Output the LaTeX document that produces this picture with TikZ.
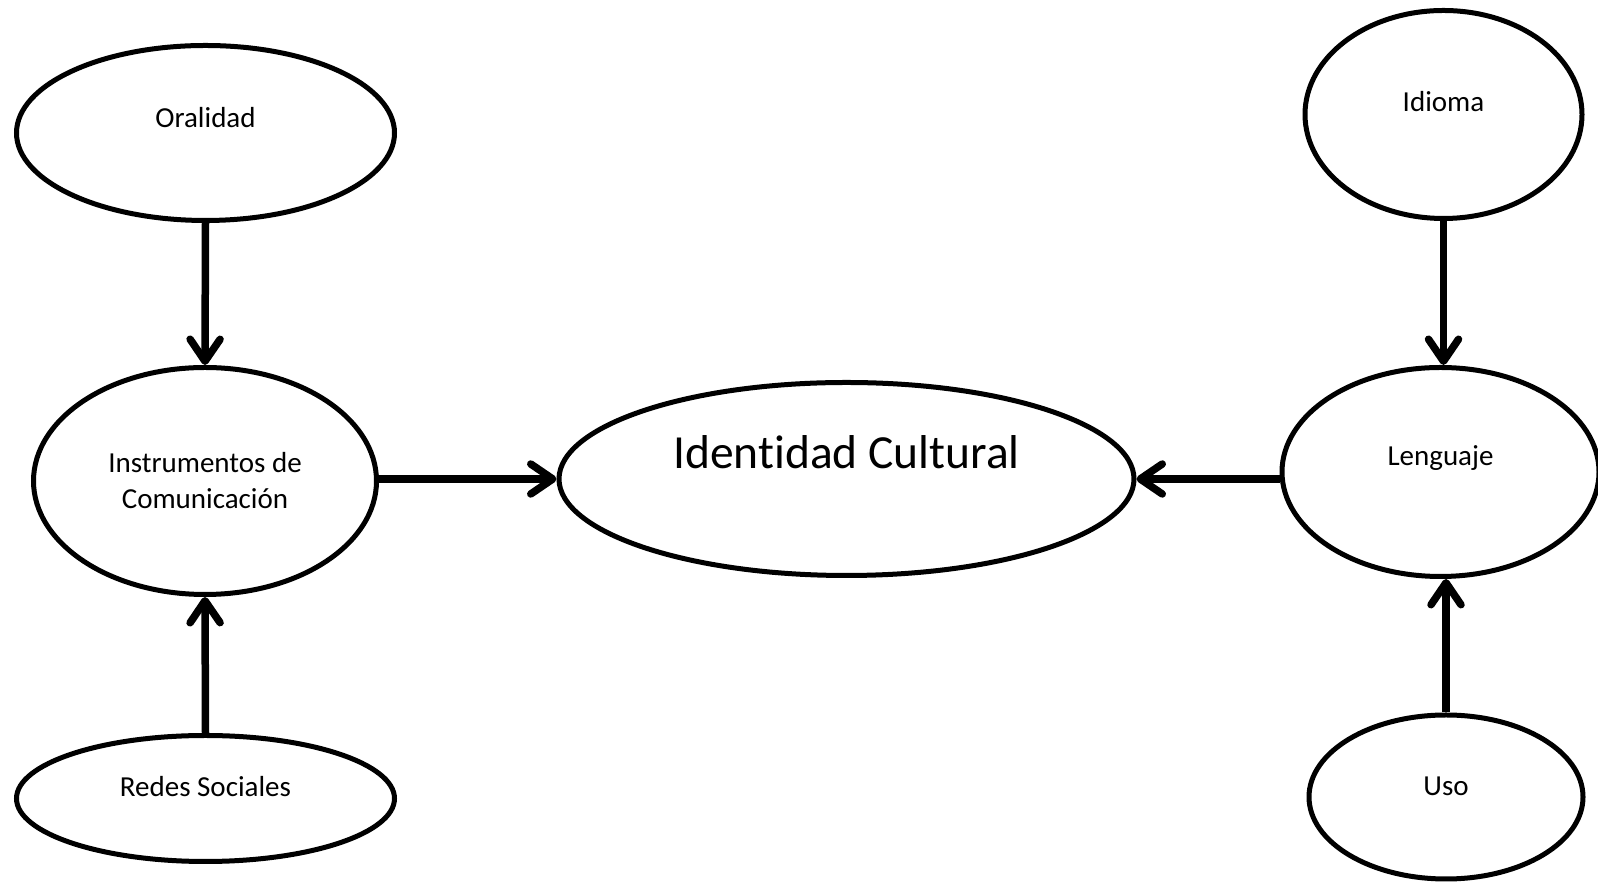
\documentclass[tikz,border=0pt]{standalone}
\usepackage{fontspec}
\setmainfont{Carlito}[Ligatures=NoCommon]
\usetikzlibrary{shapes.geometric,arrows.meta}
\begin{document}
\begin{tikzpicture}[x=1pt,y=1pt,
  oval/.style={draw=black,line width=5pt,ellipse,inner sep=0pt,fill=white},
  small/.style={font=\fontsize{29}{36}\selectfont,align=center},
  big/.style={font=\fontsize{47.5}{56}\selectfont},
  conn/.style={line width=7.5pt,-{Straight Barb[length=22pt,width=30pt,round]}}]
\useasboundingbox (0,0) rectangle (1598,885);
\fill[white] (0,0) rectangle (1598,885);
\node[oval,minimum width=378pt,minimum height=175pt,
  label={[small,yshift=15pt]center:Oralidad}] (ora) at (205.5,752) {};
\node[oval,minimum width=343pt,minimum height=227pt,
  label={[small]center:Instrumentos de\\Comunicación}] (ins) at (205,404) {};
\node[oval,minimum width=378pt,minimum height=126pt,
  label={[small,yshift=11.5pt]center:Redes Sociales}] (red) at (205.5,86.5) {};
\node[oval,minimum width=575pt,minimum height=193pt,
  label={[big,yshift=27pt]center:Identidad Cultural}] (ide) at (846.5,406) {};
\node[oval,minimum width=277pt,minimum height=208pt,
  label={[small,yshift=12.5pt]center:Idioma}] (idi) at (1443.5,770.5) {};
\node[oval,minimum width=317pt,minimum height=209pt,
  label={[small,yshift=14pt]center:Lenguaje}] (len) at (1440.5,413) {};
\node[oval,minimum width=274pt,minimum height=164pt,
  label={[small,yshift=11pt]center:Uso}] (uso) at (1446,88) {};
\draw[conn] (ora.south) -- (ins.north);
\draw[conn] (red.north) -- (ins.south);
\draw[conn] (ide.west -| ins.east) -- (ide.west);
\draw[conn] (idi.south) -- (idi.south |- len.north);
\draw[conn] (uso.north) -- (uso.north |- len.south);
\draw[conn] (len.west |- ide.east) -- (ide.east);
\end{tikzpicture}
\end{document}
